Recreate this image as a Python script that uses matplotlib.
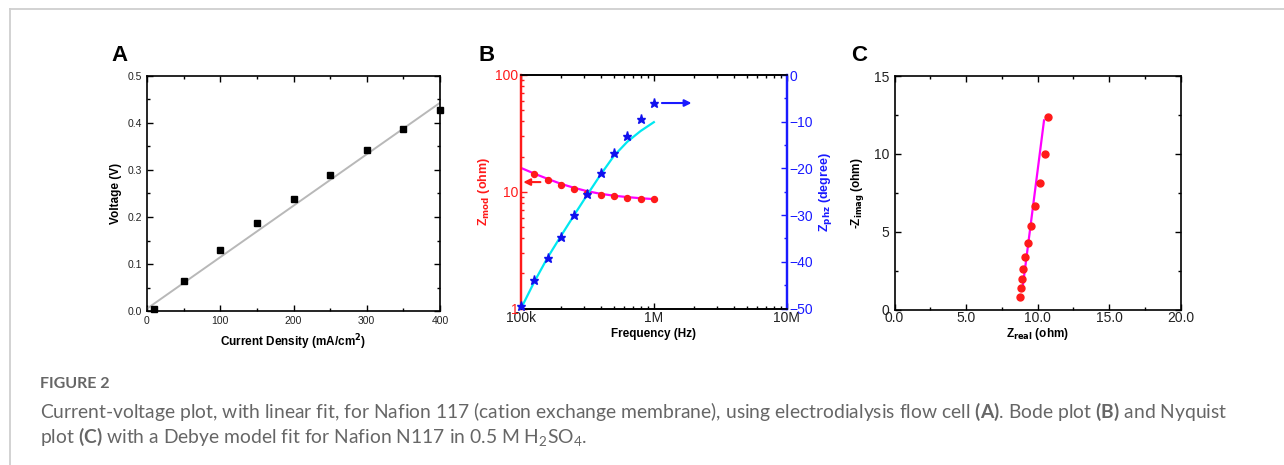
import numpy as np
import matplotlib
matplotlib.use("Agg")
import matplotlib.pyplot as plt
from matplotlib.lines import Line2D
from matplotlib.ticker import MultipleLocator, FixedLocator, FixedFormatter, LogLocator, NullFormatter

# ---------------- data ----------------
# Panel A: current-voltage
current_density = [10, 50, 100, 150, 200, 250, 300, 350, 400]
voltage = [0.005, 0.063, 0.129, 0.187, 0.239, 0.290, 0.343, 0.388, 0.427]
fit_a_x = [0, 400]
fit_a_y = [0.005, 0.443]

# Panel B: Bode
freq_mod = [125900, 158500, 199500, 251200, 316200, 398100, 501200, 631000, 794300, 1000000]
z_mod = [14.2, 12.6, 11.5, 10.6, 9.8, 9.45, 9.15, 8.9, 8.7, 8.6]
freq_phz = [100000, 125900, 158500, 199500, 251200, 316200, 398100, 501200, 631000, 794300, 1000000]
z_phz = [-49.4, -43.9, -39.1, -34.7, -30.0, -25.4, -21.0, -16.8, -13.1, -9.4, -6.0]
fit_freq = [100000, 125900, 158500, 199500, 251200, 316200, 398100, 501200, 631000, 794300, 1000000]
fit_mod = [16.0, 14.3, 12.9, 11.7, 10.8, 10.1, 9.6, 9.25, 9.0, 8.8, 8.65]
fit_phz = [-50.0, -44.3, -39.1, -34.5, -30.0, -25.6, -21.3, -17.3, -14.3, -12.0, -10.1]
freq_labels = ["100k", "1M", "10M"]

# Panel C: Nyquist
z_real = [8.80, 8.85, 8.89, 9.01, 9.15, 9.31, 9.57, 9.80, 10.17, 10.55, 10.76]
z_imag = [0.81, 1.37, 1.97, 2.61, 3.40, 4.30, 5.37, 6.66, 8.13, 9.99, 12.35]
fit_c_x = [8.96, 10.45]
fit_c_y = [1.46, 12.15]

caption_title = "FIGURE 2"
caption_line1 = (r"Current-voltage plot, with linear fit, for Nafion 117 (cation exchange membrane), "
                 r"using electrodialysis flow cell $\mathbf{(A)}$. Bode plot $\mathbf{(B)}$ and Nyquist")
caption_line2 = r"plot $\mathbf{(C)}$ with a Debye model fit for Nafion N117 in 0.5 M H$_2$SO$_4$."

# ---------------- style ----------------
plt.rcParams['font.family'] = ['Liberation Sans', 'DejaVu Sans']
plt.rcParams['mathtext.fontset'] = 'custom'
plt.rcParams['mathtext.rm'] = 'Lato'
plt.rcParams['mathtext.bf'] = 'Lato:bold'
plt.rcParams['mathtext.it'] = 'Lato:italic'

W, H = 1284, 465
fig = plt.figure(figsize=(W / 100, H / 100), dpi=100)
fig.patch.set_facecolor('white')

def frac_axes(left, top, right, bottom):
    return [left / W, 1 - bottom / H, (right - left) / W, (bottom - top) / H]

# card frame lines
fig.add_artist(Line2D([9.5 / W, 1.0], [1 - 9.5 / H, 1 - 9.5 / H], transform=fig.transFigure,
                      color='#cfcfcf', lw=1.3))
fig.add_artist(Line2D([9.5 / W, 9.5 / W], [1 - 9.5 / H, 0.0], transform=fig.transFigure,
                      color='#cfcfcf', lw=1.3))

def style_ticks(ax, size, color='#222222'):
    ax.tick_params(which='both', direction='in', top=True, right=True, labelsize=size,
                   labelcolor=color, width=1.0)
    ax.tick_params(which='major', length=4)
    ax.tick_params(which='minor', length=2)

mathfont = 'dejavusans'

# ---------------- Panel A ----------------
axA = fig.add_axes(frac_axes(147, 76, 440, 311))
axA.plot(fit_a_x, fit_a_y, color='#b8b8b8', lw=1.4, zorder=2)
axA.plot(current_density, voltage, 's', color='black', ms=4.0, zorder=3, clip_on=False)
axA.set_xlim(0, 400)
axA.set_ylim(0, 0.5)
axA.xaxis.set_major_locator(MultipleLocator(100))
axA.xaxis.set_minor_locator(MultipleLocator(50))
axA.yaxis.set_major_locator(MultipleLocator(0.1))
axA.yaxis.set_minor_locator(MultipleLocator(0.05))
axA.yaxis.set_major_formatter(plt.FuncFormatter(lambda v, p: f"{v:.1f}"))
style_ticks(axA, 7.5)
for s in axA.spines.values():
    s.set_linewidth(1.2)
axA.set_xlabel(r"Current Density (mA/cm$^{\mathbf{2}}$)", fontsize=8.5, fontweight='bold',
               labelpad=5, math_fontfamily=mathfont)
axA.set_ylabel("Voltage (V)", fontsize=8.5, fontweight='bold', labelpad=4)

# ---------------- Panel B ----------------
axB = fig.add_axes(frac_axes(521, 75, 786.7, 308.5))
axB2 = axB.twinx()
axB.set_xscale('log')
axB.set_yscale('log')
axB.set_xlim(1e5, 1e7)
axB.set_ylim(1, 100)
axB2.set_ylim(-50, 0)

axB.plot(fit_freq, fit_mod, color='#ff00ff', lw=1.6, zorder=3)
axB.plot(freq_mod, z_mod, 'o', color='#ff1a1a', ms=4.3, zorder=4)
axB2.plot(fit_freq, fit_phz, color='#00e8f0', lw=1.6, zorder=3)
axB2.plot(freq_phz, z_phz, '*', color='#1010ee', ms=6.5, zorder=4, clip_on=False)

axB.xaxis.set_major_locator(FixedLocator([1e5, 1e6, 1e7]))
axB.xaxis.set_major_formatter(FixedFormatter(freq_labels))
axB.xaxis.set_minor_locator(LogLocator(base=10, subs=np.arange(2, 10) * 1.0, numticks=20))
axB.xaxis.set_minor_formatter(NullFormatter())
axB.yaxis.set_major_locator(FixedLocator([1, 10, 100]))
axB.yaxis.set_major_formatter(FixedFormatter(["1", "10", "100"]))
axB.yaxis.set_minor_locator(LogLocator(base=10, subs=np.arange(2, 10) * 1.0, numticks=20))
axB.yaxis.set_minor_formatter(NullFormatter())
axB.tick_params(which='both', direction='in', top=True, right=False, width=1.0)
axB.tick_params(which='major', length=4)
axB.tick_params(which='minor', length=2)
axB.tick_params(axis='x', which='both', labelsize=10, labelcolor='#222222', pad=2)
axB.tick_params(axis='y', which='both', colors='#ff1a1a', labelsize=10, pad=2)
axB2.yaxis.set_major_locator(MultipleLocator(10))
axB2.yaxis.set_minor_locator(MultipleLocator(5))
axB2.tick_params(which='both', direction='in', colors='#1a1aff', labelsize=10, width=1.0, pad=2)
axB2.tick_params(which='major', length=4)
axB2.tick_params(which='minor', length=2)

for a in (axB, axB2):
    a.spines['left'].set_color('#ff1a1a')
    a.spines['left'].set_linewidth(1.6)
    a.spines['right'].set_color('#1a1aff')
    a.spines['right'].set_linewidth(1.6)
    a.spines['top'].set_linewidth(1.2)
    a.spines['bottom'].set_linewidth(1.2)

axB.set_xlabel("Frequency (Hz)", fontsize=8.5, fontweight='bold', labelpad=2)
axB.set_ylabel(r"Z$_{\mathbf{mod}}$ (ohm)", fontsize=9, fontweight='bold', color='#ff1a1a',
               labelpad=2, math_fontfamily=mathfont)
axB2.set_ylabel(r"Z$_{\mathbf{phz}}$ (degree)", fontsize=9, fontweight='bold', color='#1a1aff',
                labelpad=3, rotation=90, math_fontfamily=mathfont)

axB.annotate("", xy=(1.04e5, 12.1), xytext=(1.40e5, 12.1),
             arrowprops=dict(arrowstyle='-|>', color='#ff1a1a', lw=1.5, mutation_scale=10,
                             shrinkA=0, shrinkB=0))
axB2.annotate("", xy=(1.92e6, -6.0), xytext=(1.15e6, -6.0),
              arrowprops=dict(arrowstyle='-|>', color='#1a1aff', lw=1.5, mutation_scale=10,
                              shrinkA=0, shrinkB=0))

# ---------------- Panel C ----------------
axC = fig.add_axes(frac_axes(894.5, 76, 1180.7, 309.5))
axC.plot(fit_c_x, fit_c_y, color='#ff00ff', lw=1.6, zorder=2)
axC.plot(z_real, z_imag, 'o', color='#ff1a1a', ms=5, zorder=3)
axC.set_xlim(0, 20)
axC.set_ylim(0, 15)
axC.xaxis.set_major_locator(MultipleLocator(5))
axC.xaxis.set_minor_locator(MultipleLocator(2.5))
axC.xaxis.set_major_formatter(plt.FuncFormatter(lambda v, p: f"{v:.1f}"))
axC.yaxis.set_major_locator(MultipleLocator(5))
axC.yaxis.set_minor_locator(MultipleLocator(2.5))
style_ticks(axC, 10)
axC.tick_params(axis='x', pad=1)
for s in axC.spines.values():
    s.set_linewidth(1.2)
axC.set_xlabel(r"Z$_{\mathbf{real}}$ (ohm)", fontsize=8.5, fontweight='bold', labelpad=1,
               math_fontfamily=mathfont)
axC.set_ylabel(r"-Z$_{\mathbf{imag}}$ (ohm)", fontsize=8.5, fontweight='bold', labelpad=6,
               math_fontfamily=mathfont)

# ---------------- panel letters ----------------
for letter, xpx in (("A", 111), ("B", 479), ("C", 851)):
    fig.text(xpx / W, 1 - 61 / H, letter, fontsize=16, fontweight='bold', color='black',
             ha='left', va='baseline')

# ---------------- caption ----------------
cap_color = '#666666'
fig.text(40 / W, 1 - 388 / H, caption_title, fontsize=11.5, fontweight='bold', color=cap_color,
         family=['Lato', 'DejaVu Sans'], ha='left', va='baseline')
t1 = fig.text(40 / W, 1 - 418 / H, caption_line1, fontsize=11.5, color=cap_color,
              family=['Lato', 'DejaVu Sans'], ha='left', va='baseline')
t2 = fig.text(40 / W, 1 - 443 / H, caption_line2, fontsize=11.5, color=cap_color,
              family=['Lato', 'DejaVu Sans'], ha='left', va='baseline')
# fit caption line width to the reference (~1192 px)
fig.canvas.draw()
r = fig.canvas.get_renderer()
w = t1.get_window_extent(r).width
if w > 0:
    fs = 11.5 * 1192.0 / w
    t1.set_fontsize(fs)
    t2.set_fontsize(fs)

fig.savefig("out.png", dpi=100, facecolor='white')
